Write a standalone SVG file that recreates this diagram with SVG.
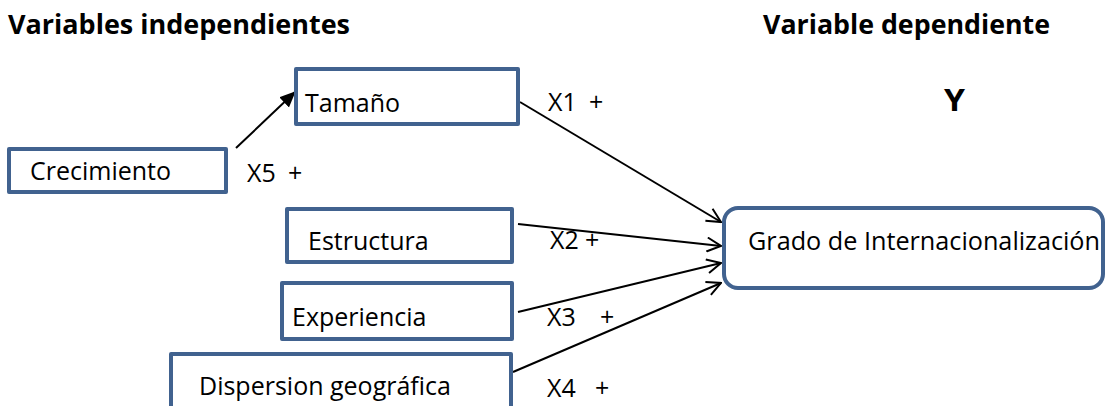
<svg xmlns="http://www.w3.org/2000/svg" width="1106" height="406" viewBox="0 0 1106 406">
  <defs>
    <style>
      .box { fill: #ffffff; stroke: #41628f; stroke-width: 4; stroke-linejoin: round; }
      .lbl { font-family: "Open Sans", "Liberation Sans", sans-serif; font-size: 25px; fill: #000000; }
      .ttl { font-family: "Open Sans", "Liberation Sans", sans-serif; font-size: 26px; font-weight: bold; fill: #000000; }
      .edge { stroke: #000000; stroke-width: 2; fill: none; }
    </style>
    <marker id="open" viewBox="0 0 16 16" refX="15" refY="8" markerWidth="16" markerHeight="16" markerUnits="userSpaceOnUse" orient="auto">
      <path d="M1,1 L15,8 L1,15" fill="none" stroke="#000000" stroke-width="2"/>
    </marker>
    <marker id="solid" viewBox="0 0 16 16" refX="15" refY="8" markerWidth="16" markerHeight="16" markerUnits="userSpaceOnUse" orient="auto">
      <path d="M0,1 L16,8 L0,15 Z" fill="#000000"/>
    </marker>
  </defs>

  <rect width="1106" height="406" fill="#ffffff"/>

  <!-- headings -->
  <text class="ttl" x="8" y="34" textLength="342" lengthAdjust="spacingAndGlyphs">Variables independientes</text>
  <text class="ttl" x="763" y="34" textLength="287" lengthAdjust="spacingAndGlyphs">Variable dependiente</text>
  <text class="ttl" x="944" y="111" font-size="31" textLength="21" lengthAdjust="spacingAndGlyphs" transform="translate(944 111) scale(1 1.15) translate(-944 -111)">Y</text>

  <!-- connectors -->
  <g id="connectors">
    <line class="edge" x1="236" y1="148" x2="295" y2="92" marker-end="url(#solid)"/>
    <line class="edge" x1="520" y1="102" x2="721" y2="222" marker-end="url(#open)"/>
    <line class="edge" x1="518" y1="224" x2="721" y2="246" marker-end="url(#open)"/>
    <line class="edge" x1="518" y1="312" x2="721" y2="263" marker-end="url(#open)"/>
    <line class="edge" x1="513" y1="372" x2="721" y2="283" marker-end="url(#open)"/>
  </g>

  <g id="crecimiento">
    <rect class="box" x="9" y="149" width="217" height="43"/>
    <text class="lbl" x="30" y="180">Crecimiento</text>
    <text class="lbl" x="247" y="182">X5</text>
    <text class="lbl" x="288" y="182">+</text>
  </g>

  <g id="tamano">
    <rect class="box" x="296" y="69" width="222" height="55"/>
    <text class="lbl" x="305" y="112">Tamaño</text>
    <text class="lbl" x="548" y="111">X1</text>
    <text class="lbl" x="589" y="111">+</text>
  </g>

  <g id="estructura">
    <rect class="box" x="287" y="209" width="225" height="53"/>
    <text class="lbl" x="308" y="250">Estructura</text>
    <text class="lbl" x="550" y="249">X2</text>
    <text class="lbl" x="585" y="249">+</text>
  </g>

  <g id="experiencia">
    <rect class="box" x="282" y="283" width="230" height="56"/>
    <text class="lbl" x="292" y="326">Experiencia</text>
    <text class="lbl" x="547" y="326">X3</text>
    <text class="lbl" x="600" y="326">+</text>
  </g>

  <g id="dispersion">
    <rect class="box" x="171" y="354" width="340" height="70"/>
    <text class="lbl" x="199" y="395">Dispersion geográfica</text>
    <text class="lbl" x="547" y="397">X4</text>
    <text class="lbl" x="595" y="397">+</text>
  </g>

  <g id="grado">
    <rect class="box" x="724" y="208" width="379" height="80" rx="14" ry="14"/>
    <text class="lbl" x="748" y="250" textLength="352" lengthAdjust="spacingAndGlyphs">Grado de Internacionalización</text>
  </g>
</svg>
